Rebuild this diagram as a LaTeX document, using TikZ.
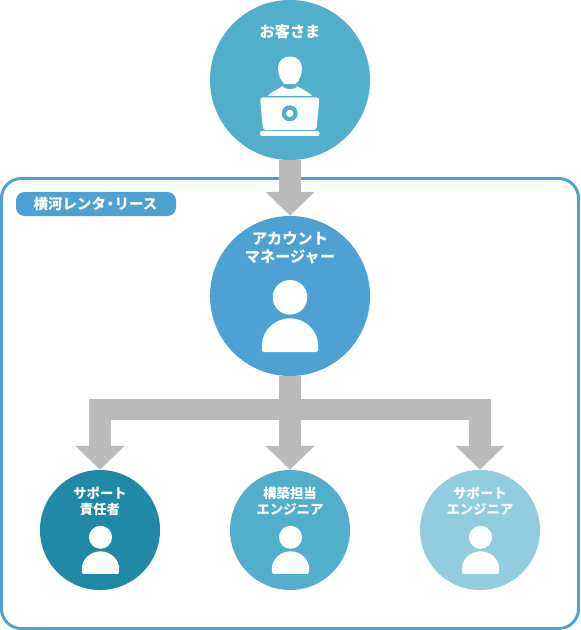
\documentclass[tikz,border=0pt]{standalone}
\usepackage{fontspec}
\setmainfont{Noto Sans CJK JP}
\usetikzlibrary{arrows.meta}
\definecolor{frameblue}{HTML}{4DA2D3}
\definecolor{guestblue}{HTML}{52AFCB}
\definecolor{leadteal}{HTML}{2089A5}
\definecolor{palesky}{HTML}{92CDDF}
\definecolor{arrowgray}{HTML}{BBBBBB}
\tikzset{
  bigrole/.style={circle, inner sep=0pt, minimum size=4cm},
  smallrole/.style={circle, inner sep=0pt, minimum size=3cm},
  biglabel/.style={text=white, align=center, inner sep=0pt, font=\fontsize{10.8}{12.8}\selectfont\bfseries},
  smalllabel/.style={text=white, align=center, inner sep=0pt, font=\fontsize{9.5}{11.3}\selectfont\bfseries},
  fatarrow/.style={draw=arrowgray, line width=15pt, line join=miter, -{Triangle[length=17pt, width=34pt]}},
  member/.pic={
    \fill[white] (0,0) circle (17.3);
    \fill[white, rounded corners=1pt] (-28,54.7) -- (-28,49) arc (180:360:28) -- (28,54.7) -- cycle;
  }
}
\begin{document}
\begin{tikzpicture}[x=0.025cm, y=-0.025cm]

  \useasboundingbox (0,0) rectangle (580,630);

  \draw[frameblue, line width=2.1pt, rounded corners=14pt] (1.5,178.5) rectangle (578.5,628.5);
  \fill[frameblue, rounded corners=6pt] (16,192) rectangle (176,216);
  \node[text=white, inner sep=0pt, font=\fontsize{10.3}{12}\selectfont\bfseries] (company) at (95.5,204) {横河レンタ\kern-.2em・\kern-.2emリース};

  \node[bigrole, fill=guestblue] (guest) at (290,80) {};
  \node[bigrole, fill=frameblue] (manager) at (290,296) {};
  \node[smallrole, fill=leadteal] (lead) at (100,530) {};
  \node[smallrole, fill=guestblue] (builder) at (290,530) {};
  \node[smallrole, fill=palesky] (support) at (480,530) {};

  \coordinate (split) at (290,409.5);

  \draw[fatarrow] (guest) -- (manager);
  \draw[fatarrow] (manager) -- (builder);
  \draw[fatarrow] (split) -| (lead);
  \draw[fatarrow] (split) -| (support);

  \node[biglabel] (guesttext) at (290,32) {お客さま};
  \node[biglabel] (managertext) at (290,248) {アカウント\\マネージャー};
  \node[smalllabel] (leadtext) at (100,501) {サポート\\責任者};
  \node[smalllabel] (buildertext) at (290,501) {構築担当\\エンジニア};
  \node[smalllabel] (supporttext) at (480,501) {サポート\\エンジニア};

  \pic at (290,297.3) {member};
  \pic[scale=0.667] at (100.5,537.3) {member};
  \pic[scale=0.667] at (290.5,537.3) {member};
  \pic[scale=0.667] at (480.5,537.3) {member};

  % customer at the laptop
  \fill[white] (290,56.5) .. controls (283,56.5) and (278,61) .. (278,68) .. controls (278,75) and (281,81) .. (284.5,84) -- (295.5,84) .. controls (299,81) and (302,75) .. (302,68) .. controls (302,61) and (297,56.5) .. (290,56.5) -- cycle;
  \fill[white] (268,96) .. controls (270,92) and (276,91) .. (282.5,86) .. controls (284,90) and (296,90) .. (297.5,86) .. controls (304,91) and (310,92) .. (312,96) -- cycle;
  \fill[white, rounded corners=2pt] (260,97.5) -- (319.5,97.5) -- (316.5,130) -- (263,130) -- cycle;
  \fill[white, rounded corners=1.5pt] (260,131) rectangle (319.5,136);
  \fill[guestblue] (289.7,113.3) circle (8);
  \fill[white] (289.7,113.3) circle (3.7);

\end{tikzpicture}
\end{document}
